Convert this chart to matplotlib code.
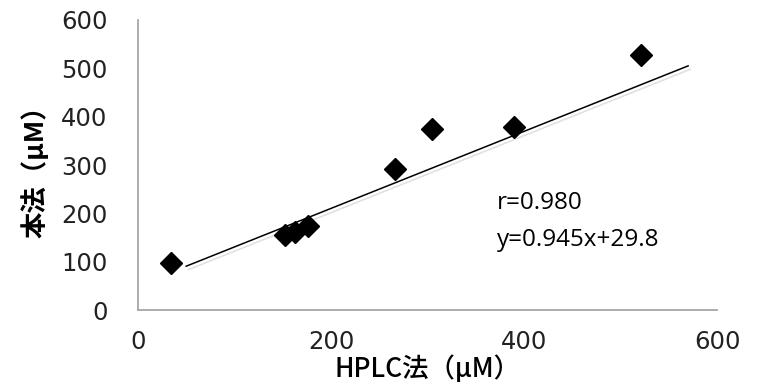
import matplotlib
matplotlib.use('Agg')
import matplotlib.pyplot as plt
import matplotlib.patheffects as pe

plt.rcParams['font.family'] = ['Noto Sans CJK JP', 'DejaVu Sans']

# HPLC method vs this method (uM)
hplc = [34, 152, 163, 176, 266, 305, 390, 521]
honpo = [97, 155, 161, 174, 292, 375, 379, 528]

# trend line as drawn in the original (end points)
trend_x = [50, 570]
trend_y = [91, 505]

r_text = 'r=0.980'
eq_text = 'y=0.945x+29.8'

xticks = [0, 200, 400, 600]
yticks = [0, 100, 200, 300, 400, 500, 600]

fig = plt.figure(figsize=(7.58, 3.83), dpi=100)
ax = fig.add_axes([0.182, 0.19, 0.764, 0.758])

ax.plot(trend_x, trend_y, color='black', linewidth=1.1,
        path_effects=[pe.SimpleLineShadow(offset=(1.5, -2.5), shadow_color='gray', alpha=0.25),
                      pe.Normal()])
ax.plot(hplc, honpo, linestyle='none', marker='D', markersize=11.5, color='black')

ax.set_xlim(0, 600)
ax.set_ylim(0, 600)
ax.set_xticks(xticks)
ax.set_yticks(yticks)
ax.set_xticklabels([str(t) for t in xticks], family='DejaVu Sans')
ax.set_yticklabels([str(t) for t in yticks], family='DejaVu Sans')
ax.tick_params(length=0, labelsize=17.5, labelcolor='#222222')
ax.tick_params(axis='x', pad=14)
ax.tick_params(axis='y', pad=22)

for s in ['top', 'right']:
    ax.spines[s].set_visible(False)
for s in ['left', 'bottom']:
    ax.spines[s].set_color('#a6a6a6')
    ax.spines[s].set_linewidth(1.3)

ax.set_xlabel('HPLC法（μM）', fontsize=19, fontweight='medium', labelpad=1)
ax.set_ylabel('本法（μM）', fontsize=19, fontweight='bold', labelpad=8)

ax.text(372, 222, r_text, fontsize=17.5, family=['Open Sans', 'DejaVu Sans'], va='center')
ax.text(372, 146, eq_text, fontsize=17.5, family=['Open Sans', 'DejaVu Sans'], va='center')

fig.savefig('out.png', dpi=100)
